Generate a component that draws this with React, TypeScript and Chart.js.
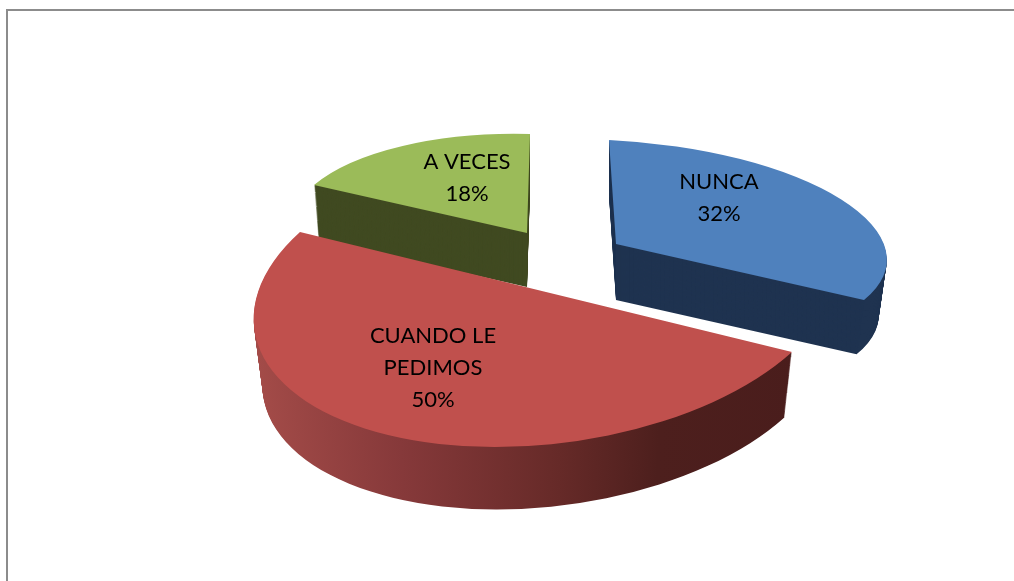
import React, { useEffect, useRef } from "react";
import { Chart, registerables } from "chart.js";

Chart.register(...registerables);

const categories = ["NUNCA", "CUANDO LE PEDIMOS", "A VECES"];
const labelLines = [["NUNCA"], ["CUANDO LE", "PEDIMOS"], ["A VECES"]];
const values = [32, 50, 18];
const topColors = ["#4f81bd", "#c0504d", "#9bbb59"];

// Projection of each slice on the page: centre, then two rim points (at the start angle and at a fraction of the sweep).
const frames = [
  { o: [616, 244], p1: [609, 140], p2: [864, 300], frac: 1, depth: 56, shrink: 0.03, label: [719, 182] },
  { o: [546, 292], p1: [792, 352], p2: [388, 435], frac: 0.5, depth: 67, shrink: 0.03, label: [433, 336] },
  { o: [527, 233], p1: [314, 185], p2: [530, 134], frac: 1, depth: 54, shrink: 0.02, label: [467, 162] },
];
const sideColors: any[] = ["#1f3350", null, "#404a21"];
const redSideStops: [number, string][] = [
  [255, "#a34b48"],
  [400, "#86393a"],
  [560, "#662a28"],
  [660, "#4d1f1d"],
  [800, "#4a1d1c"],
];
const paintOrder = [2, 0, 1];

function matrixFor(arc: any, f: any) {
  const a1 = arc.startAngle;
  const a2 = arc.startAngle + (arc.endAngle - arc.startAngle) * f.frac;
  const R = arc.outerRadius;
  const e1 = [Math.cos(a1) * R, Math.sin(a1) * R];
  const e2 = [Math.cos(a2) * R, Math.sin(a2) * R];
  const v1 = [f.p1[0] - f.o[0], f.p1[1] - f.o[1]];
  const v2 = [f.p2[0] - f.o[0], f.p2[1] - f.o[1]];
  const det = e1[0] * e2[1] - e2[0] * e1[1];
  const i = [e2[1] / det, -e2[0] / det, -e1[1] / det, e1[0] / det];
  return {
    a: v1[0] * i[0] + v2[0] * i[2],
    c: v1[0] * i[1] + v2[0] * i[3],
    b: v1[1] * i[0] + v2[1] * i[2],
    d: v1[1] * i[1] + v2[1] * i[3],
  };
}

function drawArc(ctx: any, arc: any, m: any, f: any, dy: number, s: number, fill: any) {
  const saved = arc.options;
  arc.options = { ...saved, backgroundColor: fill, borderWidth: 0, offset: 0 };
  const a = m.a * s, b = m.b * s, c = m.c * s, d = m.d * s;
  ctx.save();
  ctx.transform(a, b, c, d, f.o[0] - (a * arc.x + c * arc.y), f.o[1] + dy - (b * arc.x + d * arc.y));
  arc.draw(ctx);
  ctx.restore();
  arc.options = saved;
}

const pie3d = {
  id: "pie3d",
  beforeDraw(chart: any) {
    const ctx = chart.ctx;
    ctx.save();
    ctx.strokeStyle = "#8c8c8c";
    ctx.lineWidth = 2;
    ctx.beginPath();
    ctx.moveTo(7, 581);
    ctx.lineTo(7, 10);
    ctx.lineTo(1014, 10);
    ctx.stroke();
    ctx.restore();
  },
  beforeDatasetDraw(chart: any) {
    const ctx = chart.ctx;
    const arcs = chart.getDatasetMeta(0).data;
    for (const idx of paintOrder) {
      const arc = arcs[idx];
      const f = frames[idx];
      const m = matrixFor(arc, f);
      let side = sideColors[idx];
      if (!side) {
        const ex = f.o[0];
        const k = 1 / (m.a * m.a + m.c * m.c);
        const x0 = redSideStops[0][0];
        const x1 = redSideStops[redSideStops.length - 1][0];
        const g = ctx.createLinearGradient(
          arc.x + (x0 - ex) * m.a * k,
          arc.y + (x0 - ex) * m.c * k,
          arc.x + (x1 - ex) * m.a * k,
          arc.y + (x1 - ex) * m.c * k
        );
        for (const [x, col] of redSideStops) g.addColorStop((x - x0) / (x1 - x0), col);
        side = g;
      }
      for (let y = f.depth; y > 0; y -= 1) {
        const t = y / f.depth;
        drawArc(ctx, arc, m, f, y, 1 - f.shrink * t, side);
      }
      drawArc(ctx, arc, m, f, 0, 1, topColors[idx]);
    }
    return false;
  },
  afterDatasetsDraw(chart: any) {
    const ctx = chart.ctx;
    ctx.save();
    ctx.font = '22px Lato';
    ctx.fillStyle = "#000";
    ctx.textAlign = "center";
    ctx.textBaseline = "middle";
    values.forEach((v, i) => {
      const lines = [...labelLines[i], `${v}%`];
      lines.forEach((line, j) => {
        ctx.fillText(line, frames[i].label[0], frames[i].label[1] + j * 32);
      });
    });
    ctx.restore();
  },
};

export default function App() {
  const ref = useRef<HTMLCanvasElement>(null);
  useEffect(() => {
    const chart = new Chart(ref.current as any, {
      type: "pie",
      data: {
        labels: categories,
        datasets: [{ data: values, backgroundColor: topColors, borderWidth: 0 }],
      },
      options: {
        responsive: false,
        animation: false,
        rotation: 0,
        layout: { padding: 100 },
        plugins: { legend: { display: false }, tooltip: { enabled: false } },
      },
      plugins: [pie3d],
    } as any);
    return () => chart.destroy();
  }, []);
  return (
    <div style={{ position: "fixed", left: 0, top: 0, width: 1014, height: 581, background: "#fff" }}>
      <canvas ref={ref} width={1014} height={581} style={{ display: "block" }} />
    </div>
  );
}
